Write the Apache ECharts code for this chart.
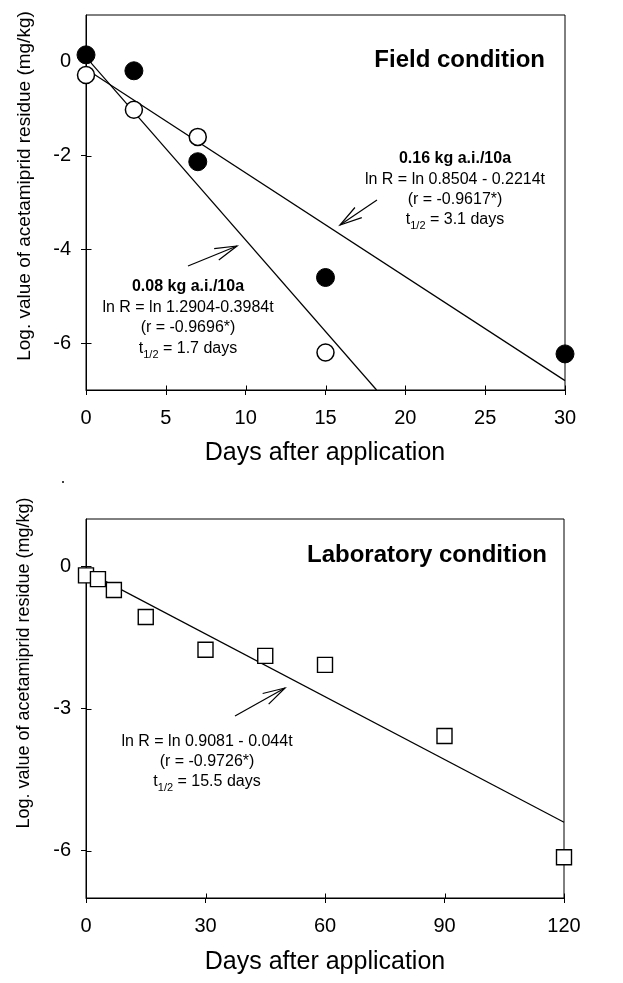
<!DOCTYPE html>
<html><head><meta charset="utf-8">
<script src="https://cdn.jsdelivr.net/npm/echarts@6/dist/echarts.min.js"></script>
<style>html,body{margin:0;padding:0;background:#fff}#c{width:623px;height:983px}</style>
</head><body><div id="c"></div>
<script>
const FONT = '"Liberation Sans", Arial, Helvetica, sans-serif';

// ---- Field condition (top panel) ----
const fieldDays016 = [0, 3, 7, 15, 30];
const field016 = [0.15, -0.19, -2.13, -4.6, -6.23];      // filled circles
const fieldDays008 = [0, 3, 7, 15];
const field008 = [-0.28, -1.02, -1.6, -6.2];             // open circles
const fitDays016 = [0, 30];
const fit016 = [-0.15, -6.8];
const fitDays008 = [0, 18.2];
const fit008 = [0.1, -7];
const fieldXTicks = [0, 5, 10, 15, 20, 25, 30];
const fieldYTicks = [0, -2, -4, -6];

// ---- Laboratory condition (bottom panel) ----
const labDays = [0, 3, 7, 15, 30, 45, 60, 90, 120];
const labVals = [-0.19, -0.27, -0.5, -1.07, -1.76, -1.89, -2.08, -3.58, -6.14];
const labFitDays = [0, 120];
const labFit = [-0.1, -5.4];
const labXTicks = [0, 30, 60, 90, 120];
const labYTicks = [0, -3, -6];

const Y_MIN = -7, Y_MAX = 1;
const pairs = (xs, ys) => xs.map((x, i) => [x, ys[i]]);

const chart = echarts.init(document.getElementById('c'), null, {renderer: 'canvas'});

function xAx(grid, ticks) {
  return {
    type: 'value', gridIndex: grid, min: ticks[0], max: ticks[ticks.length - 1], interval: ticks[1] - ticks[0], position: 'bottom',
    axisLine: {show: true, onZero: false, lineStyle: {color: '#000', width: 1}},
    axisTick: {show: true, length: 5, lineStyle: {color: '#000', width: 1}},
    axisLabel: {show: true, margin: 18, color: '#000', fontSize: 20, fontFamily: FONT},
    splitLine: {show: false}
  };
}
function yAx(grid, ticks) {
  return {
    type: 'value', gridIndex: grid, min: Y_MIN, max: Y_MAX, position: 'left',
    axisLine: {show: true, onZero: false, lineStyle: {color: '#000', width: 1}},
    axisTick: {show: true, length: 5, customValues: ticks, lineStyle: {color: '#000', width: 1}},
    axisLabel: {show: true, margin: 15, customValues: ticks, color: '#000', fontSize: 20, fontFamily: FONT},
    splitLine: {show: false}
  };
}
// inward half of the cross-shaped ticks, placed through the axis scales
function innerTicks(grid, ticks, dim) {
  return {
    type: 'custom', xAxisIndex: grid, yAxisIndex: grid, clip: false, z: 6, silent: true,
    data: ticks.map(v => dim === 'x' ? [v, Y_MIN] : [0, v]),
    renderItem: function (params, api) {
      const p = api.coord([api.value(0), api.value(1)]);
      const x = Math.round(p[0]) + 0.5, y = Math.round(p[1]) + 0.5;
      return {type: 'line', shape: dim === 'x' ? {x1: x, y1: y, x2: x, y2: y - 5} : {x1: x, y1: y, x2: x + 5, y2: y},
        style: {stroke: '#000', lineWidth: 1}};
    }
  };
}

function arrow(x1, y1, x2, y2) {
  const ang = Math.atan2(y1 - y2, x1 - x2), L = 23, a = 0.27;
  return {
    type: 'group', children: [
      {type: 'line', shape: {x1, y1, x2, y2}, style: {stroke: '#000', lineWidth: 1.2}},
      {type: 'polyline', shape: {points: [
        [x2 + L * Math.cos(ang + a), y2 + L * Math.sin(ang + a)], [x2, y2],
        [x2 + L * Math.cos(ang - a), y2 + L * Math.sin(ang - a)]]},
        style: {stroke: '#000', fill: null, lineWidth: 1.2}}
    ]
  };
}
function txt(x, y, text, size, weight, align) {
  return {type: 'text', x, y, z: 10, style: {text, fill: '#000', fontSize: size, fontWeight: weight || 'normal',
    fontFamily: FONT, textAlign: align || 'center', align: align || 'center', textVerticalAlign: 'middle', verticalAlign: 'middle'}};
}
function half(x, y, val) {
  return {type: 'text', x, y, z: 10, style: {
    text: '{a|t}{b|1/2}{a| = ' + val + '}', fill: '#000', fontFamily: FONT,
    textAlign: 'center', align: 'center', textVerticalAlign: 'middle', verticalAlign: 'middle',
    rich: {a: {fontSize: 16, fontFamily: FONT, lineHeight: 22, verticalAlign: 'middle'},
           b: {fontSize: 11, fontFamily: FONT, lineHeight: 11, verticalAlign: 'bottom'}}}};
}

const option = {
  backgroundColor: '#fff',
  animation: false,
  grid: [
    {left: 86, top: 15, width: 479, height: 375, show: true, borderColor: '#000', borderWidth: 1, outerBoundsMode: 'none', containLabel: false},
    {left: 86, top: 519, width: 478, height: 379, show: true, borderColor: '#000', borderWidth: 1, outerBoundsMode: 'none', containLabel: false}
  ],
  xAxis: [xAx(0, fieldXTicks), xAx(1, labXTicks)],
  yAxis: [yAx(0, fieldYTicks), yAx(1, labYTicks)],
  series: [
    {type: 'line', xAxisIndex: 0, yAxisIndex: 0, data: pairs(fitDays016, fit016), showSymbol: false, z: 2,
      lineStyle: {color: '#000', width: 1.2}},
    {type: 'line', xAxisIndex: 0, yAxisIndex: 0, data: pairs(fitDays008, fit008), showSymbol: false, z: 2,
      lineStyle: {color: '#000', width: 1.2}},
    {type: 'scatter', xAxisIndex: 0, yAxisIndex: 0, data: pairs(fieldDays016, field016), symbol: 'circle', symbolSize: 18,
      clip: false, z: 4, itemStyle: {color: '#000', borderColor: '#000', borderWidth: 1, opacity: 1}},
    {type: 'scatter', xAxisIndex: 0, yAxisIndex: 0, data: pairs(fieldDays008, field008), symbol: 'circle', symbolSize: 17,
      clip: false, z: 5, itemStyle: {color: '#fff', borderColor: '#000', borderWidth: 1.5, opacity: 1}},
    {type: 'line', xAxisIndex: 1, yAxisIndex: 1, data: pairs(labFitDays, labFit), showSymbol: false, z: 2,
      lineStyle: {color: '#000', width: 1.2}},
    {type: 'scatter', xAxisIndex: 1, yAxisIndex: 1, data: pairs(labDays, labVals), symbol: 'rect', symbolSize: 15,
      clip: false, z: 4, itemStyle: {color: '#fff', borderColor: '#000', borderWidth: 1.4, opacity: 1}},
    innerTicks(0, fieldXTicks, 'x'), innerTicks(0, fieldYTicks, 'y'),
    innerTicks(1, labXTicks, 'x'), innerTicks(1, labYTicks, 'y')
  ],
  graphic: [
    // axis titles
    txt(325, 453, 'Days after application', 25),
    txt(325, 962, 'Days after application', 25),
    Object.assign(txt(25, 186, 'Log. value of acetamiprid residue (mg/kg)', 19), {rotation: Math.PI / 2}),
    Object.assign(txt(24, 663, 'Log. value of acetamiprid residue (mg/kg)', 18), {rotation: Math.PI / 2}),
    // panel titles
    txt(545, 60, 'Field condition', 24, 'bold', 'right'),
    txt(547, 555, 'Laboratory condition', 24, 'bold', 'right'),
    // 0.16 kg annotation
    txt(455, 159, '0.16 kg a.i./10a', 16, 'bold'),
    txt(455, 180, 'ln R = ln 0.8504 - 0.2214t', 16),
    txt(455, 200, '(r = -0.9617*)', 16),
    half(455, 220, '3.1 days'),
    arrow(377, 200, 340, 225),
    // 0.08 kg annotation
    txt(188, 287, '0.08 kg a.i./10a', 16, 'bold'),
    txt(188, 308, 'ln R = ln 1.2904-0.3984t', 16),
    txt(188, 328, '(r = -0.9696*)', 16),
    half(188, 349, '1.7 days'),
    arrow(188, 266, 237, 246),
    // lab annotation
    txt(207, 742, 'ln R = ln 0.9081 - 0.044t', 16),
    txt(207, 762, '(r = -0.9726*)', 16),
    half(207, 782, '15.5 days'),
    arrow(235, 716, 285, 688),
    // stray scan dot
    {type: 'circle', shape: {cx: 63, cy: 482, r: 1}, style: {fill: '#000'}}
  ]
};
chart.setOption(option);
</script>
</body></html>
